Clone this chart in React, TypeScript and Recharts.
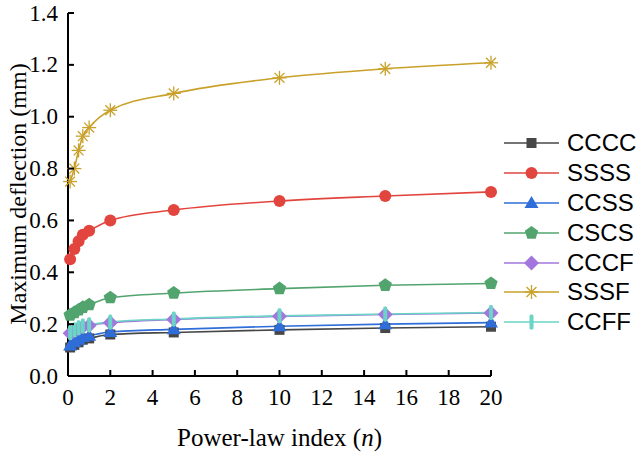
import { Line, LineChart, XAxis, YAxis } from 'recharts'

const N_VALUES = [0.1, 0.3, 0.5, 0.7, 1, 2, 5, 10, 15, 20]
const X_TICKS = [0, 2, 4, 6, 8, 10, 12, 14, 16, 18, 20]
const Y_TICKS = [0, 0.2, 0.4, 0.6, 0.8, 1.0, 1.2, 1.4]

const CCCC = [0.11, 0.12, 0.13, 0.14, 0.145, 0.16, 0.168, 0.178, 0.185, 0.19]
const SSSS = [0.45, 0.49, 0.52, 0.545, 0.56, 0.6, 0.64, 0.675, 0.694, 0.71]
const CCSS = [0.118, 0.13, 0.14, 0.15, 0.155, 0.17, 0.18, 0.192, 0.2, 0.206]
const CSCS = [0.235, 0.245, 0.255, 0.265, 0.275, 0.302, 0.32, 0.337, 0.35, 0.357]
const CCCF = [0.165, 0.175, 0.183, 0.19, 0.195, 0.205, 0.218, 0.23, 0.237, 0.243]
const SSSF = [0.75, 0.8, 0.87, 0.925, 0.958, 1.025, 1.09, 1.15, 1.185, 1.208]
const CCFF = [0.168, 0.178, 0.186, 0.193, 0.198, 0.208, 0.22, 0.232, 0.239, 0.245]

type Kind = 'square' | 'circle' | 'triangle' | 'pentagon' | 'diamond' | 'star' | 'bar'

const SERIES: { key: string; values: number[]; color: string; kind: Kind }[] = [
  { key: 'CCCC', values: CCCC, color: '#474747', kind: 'square' },
  { key: 'SSSS', values: SSSS, color: '#e2453e', kind: 'circle' },
  { key: 'CCSS', values: CCSS, color: '#2f6ed8', kind: 'triangle' },
  { key: 'CSCS', values: CSCS, color: '#52a46e', kind: 'pentagon' },
  { key: 'CCCF', values: CCCF, color: '#a276dc', kind: 'diamond' },
  { key: 'SSSF', values: SSSF, color: '#c9a12a', kind: 'star' },
  { key: 'CCFF', values: CCFF, color: '#6ad4c6', kind: 'bar' },
]

const data = N_VALUES.map((n, i) => {
  const row: Record<string, number> = { n }
  SERIES.forEach((s) => (row[s.key] = s.values[i]))
  return row
})

const SERIF = '"Liberation Serif", "Times New Roman", serif'
const SANS = '"Liberation Sans", Arial, sans-serif'

// plot box edges (from the chart margins below)
const PLOT_LEFT = 68
const PLOT_BOTTOM = 376
const TICK_LEN = 6

function polyPoints(cx: number, cy: number, r: number, sides: number, rot: number) {
  const pts: string[] = []
  for (let i = 0; i < sides; i++) {
    const a = rot + (i * 2 * Math.PI) / sides
    pts.push(`${cx + r * Math.cos(a)},${cy + r * Math.sin(a)}`)
  }
  return pts.join(' ')
}

function Marker({ kind, color, cx, cy }: { kind: Kind; color: string; cx: number; cy: number }) {
  switch (kind) {
    case 'square':
      return <rect x={cx - 5} y={cy - 5} width={10} height={10} fill={color} />
    case 'circle':
      return <circle cx={cx} cy={cy} r={6} fill={color} />
    case 'triangle':
      return <polygon points={`${cx},${cy - 7} ${cx - 7},${cy + 5} ${cx + 7},${cy + 5}`} fill={color} />
    case 'pentagon':
      return <polygon points={polyPoints(cx, cy, 7, 5, -Math.PI / 2)} fill={color} />
    case 'diamond':
      return <polygon points={polyPoints(cx, cy, 7.5, 4, -Math.PI / 2)} fill={color} />
    case 'star':
      return (
        <g stroke={color} strokeWidth={1.3}>
          {[0, 45, 90, 135].map((deg) => {
            const a = (deg * Math.PI) / 180
            return (
              <line
                key={deg}
                x1={cx - 7 * Math.cos(a)}
                y1={cy - 7 * Math.sin(a)}
                x2={cx + 7 * Math.cos(a)}
                y2={cy + 7 * Math.sin(a)}
              />
            )
          })}
        </g>
      )
    case 'bar':
      return <rect x={cx - 2} y={cy - 7.5} width={4} height={15} rx={1.5} fill={color} />
  }
}

function renderXTick(props: any) {
  const { x, payload, index } = props
  return (
    <g key={`xt-${index}`}>
      <line x1={x} x2={x} y1={PLOT_BOTTOM} y2={PLOT_BOTTOM - TICK_LEN} stroke="#000" strokeWidth={2} />
      <text x={x} y={405} textAnchor="middle" style={{ fontFamily: SERIF, fontSize: 23, fill: '#000' }}>
        {payload.value}
      </text>
    </g>
  )
}

function renderYTick(props: any) {
  const { y, payload, index } = props
  return (
    <g key={`yt-${index}`}>
      <line x1={PLOT_LEFT} x2={PLOT_LEFT + TICK_LEN} y1={y} y2={y} stroke="#000" strokeWidth={2} />
      <text x={58} y={y + 7.5} textAnchor="end" style={{ fontFamily: SERIF, fontSize: 23, fill: '#000' }}>
        {Number(payload.value).toFixed(1)}
      </text>
    </g>
  )
}

function LegendBox() {
  return (
    <div style={{ position: 'absolute', left: 500, top: 128, display: 'flex', flexDirection: 'column' }}>
      {SERIES.map((s) => (
        <div key={s.key} style={{ display: 'flex', alignItems: 'center', height: 29.9 }}>
          <svg width={67} height={30}>
            <line x1={4} x2={59} y1={15} y2={15} stroke={s.color} strokeWidth={1.6} />
            <Marker kind={s.kind} color={s.color} cx={31.5} cy={15} />
          </svg>
          <span style={{ fontFamily: SANS, fontSize: 24, color: '#000', lineHeight: '30px' }}>{s.key}</span>
        </div>
      ))}
    </div>
  )
}

export default function App() {
  return (
    <div style={{ position: 'absolute', left: 0, top: 0, width: 640, height: 453, background: '#fff' }}>
      <LineChart width={640} height={453} data={data} margin={{ top: 13, right: 149, bottom: 0, left: 0 }}>
        <XAxis
          dataKey="n"
          type="number"
          domain={[0, 20]}
          ticks={X_TICKS}
          height={77}
          axisLine={{ stroke: '#000', strokeWidth: 2 }}
          tickLine={false}
          tick={renderXTick}
          label={{
            value: 'Power-law index (n)',
            content: () => (
              <text x={279.5} y={446} textAnchor="middle" fontFamily={SERIF} fontSize={25} fill="#000">
                Power-law index (<tspan fontStyle="italic">n</tspan>)
              </text>
            ),
          }}
        />
        <XAxis xAxisId="top" orientation="top" dataKey="n" type="number" domain={[0, 20]} height={0} tick={false} tickLine={false} axisLine={{ stroke: '#000', strokeWidth: 2 }} />
        <YAxis
          type="number"
          domain={[0, 1.4]}
          ticks={Y_TICKS}
          width={68}
          axisLine={{ stroke: '#000', strokeWidth: 2 }}
          tickLine={false}
          tick={renderYTick}
          label={{
            value: 'Maximum deflection (mm)',
            content: () => (
              <text x={18} y={194} transform="rotate(-90 18 194)" textAnchor="middle" dominantBaseline="central" fontFamily={SERIF} fontSize={24} fill="#000">
                Maximum deflection (mm)
              </text>
            ),
          }}
        />
        <YAxis yAxisId="right" orientation="right" domain={[0, 1.4]} width={0} tick={false} tickLine={false} axisLine={{ stroke: '#000', strokeWidth: 2 }} />
        {SERIES.map((s) => (
          <Line
            key={s.key}
            dataKey={s.key}
            type="monotone"
            stroke={s.color}
            strokeWidth={1.6}
            isAnimationActive={false}
            dot={(p: any) => <Marker key={`${s.key}-${p.index}`} kind={s.kind} color={s.color} cx={p.cx} cy={p.cy} />}
            activeDot={false}
          />
        ))}
      </LineChart>
      <LegendBox />
    </div>
  )
}
